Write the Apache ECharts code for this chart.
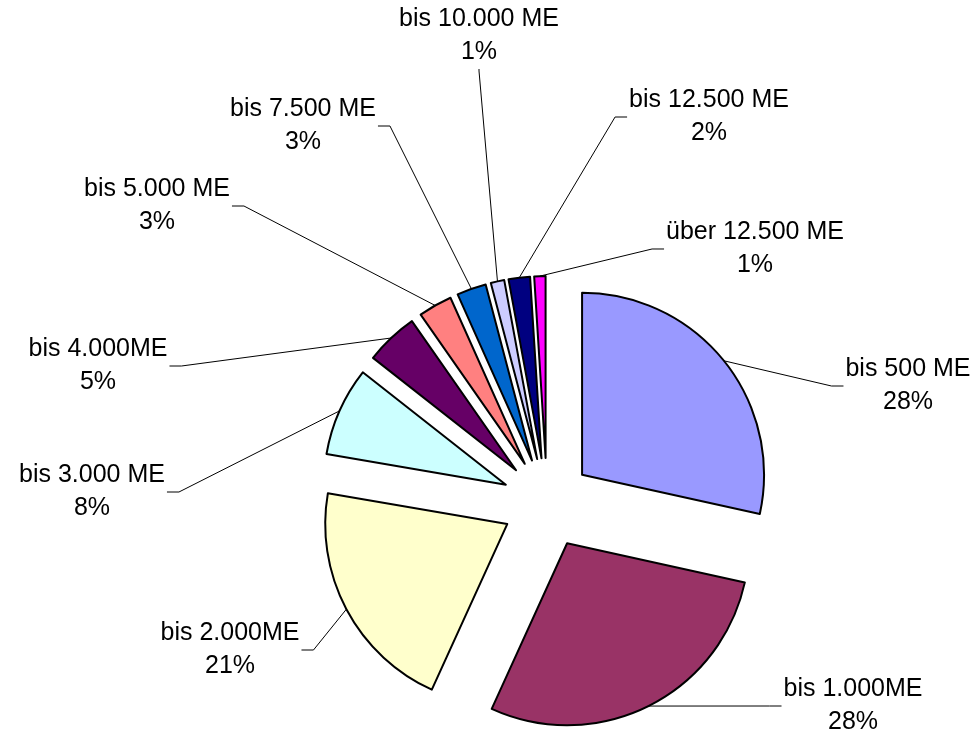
<!DOCTYPE html>
<html>
<head>
<meta charset="utf-8">
<script src="https://cdn.jsdelivr.net/npm/echarts@6/dist/echarts.min.js"></script>
<style>
  html, body { margin: 0; padding: 0; background: #fff; }
  #chart { width: 973px; height: 734px; }
</style>
</head>
<body>
<div id="chart"></div>
<script>
// slices, clockwise from 12 o'clock
const categories = ["bis 500 ME", "bis 1.000ME", "bis 2.000ME", "bis 3.000 ME", "bis 4.000ME",
  "bis 5.000 ME", "bis 7.500 ME", "bis 10.000 ME", "bis 12.500 ME", "über 12.500 ME"];
const shares = [28.45, 28.35, 20.9, 7.9, 4.7, 3.0, 2.6, 1.2, 1.9, 1.0];
const colors = ["#9999ff", "#993366", "#ffffcc", "#ccffff", "#660066",
  "#ff8080", "#0066cc", "#ccccff", "#000080", "#ff00ff"];
// where each label block sits (centre, px) and which side the leader line hits
const labelCenters = [[908, 386], [853, 706], [230, 650], [92, 492], [98, 366],
  [157, 206], [303, 126], [479, 36], [709, 117], [755, 249]];
const labelSides = ["left", "left", "right", "right", "right",
  "right", "right", "bottom", "left", "left"];

const pieCenter = [547, 503];
const explode = 45;

let myChart = echarts.init(document.getElementById("chart"));

let pieData = [];
for (let i = 0; i < categories.length; i++) {
  pieData.push({
    name: categories[i],
    value: shares[i],
    selected: true,
    itemStyle: { color: colors[i] },
    select: { itemStyle: { color: colors[i], borderColor: "#000", borderWidth: 2 } },
  });
}

let option = {
  animation: false,
  backgroundColor: "#fff",
  series: [
    {
      type: "pie",
      center: pieCenter,
      radius: 182,
      startAngle: 90,
      clockwise: true,
      selectedMode: "multiple",
      selectedOffset: explode,
      avoidLabelOverlap: false,
      itemStyle: { borderColor: "#000", borderWidth: 2 },
      emphasis: { disabled: true },
      label: {
        show: true,
        position: "outside",
        fontFamily: "Liberation Sans, Arial, sans-serif",
        fontSize: 25,
        lineHeight: 33,
        color: "#000",
        formatter: function (p) {
          return p.name + "\n" + Math.round(p.value) + "%";
        },
      },
      labelLine: {
        show: true,
        length: 10,
        length2: 10,
        lineStyle: { color: "#000", width: 1 },
      },
      labelLayout: function (params) {
        let i = params.dataIndex;
        let r = params.labelRect;
        let t = labelCenters[i];
        let pts = params.labelLinePoints;
        // the selected state moves label and leader line by the slice's explode shift
        let vx = pts[0][0] - pieCenter[0];
        let vy = pts[0][1] - pieCenter[1];
        let len = Math.sqrt(vx * vx + vy * vy);
        let sx = (vx / len) * explode;
        let sy = (vy / len) * explode;
        let hw = r.width / 2;
        let hh = r.height / 2;
        // text anchor x: right edge for right-aligned (left side) labels, else left edge
        let anchorX = pts[2][0] > r.x + hw ? r.x + r.width : r.x;
        let anchor, knee;
        if (labelSides[i] === "left") {
          anchor = [t[0] - hw - 2, t[1]];
          knee = [anchor[0] - 12, t[1]];
        } else if (labelSides[i] === "right") {
          anchor = [t[0] + hw + 2, t[1]];
          knee = [anchor[0] + 12, t[1]];
        } else {
          anchor = [t[0], t[1] + hh];
          knee = [t[0], t[1] + hh + 2];
        }
        return {
          align: "center",
          dx: t[0] - anchorX - sx,
          dy: t[1] - (r.y + hh) - sy,
          labelLinePoints: [
            pts[0],
            [knee[0] - sx, knee[1] - sy],
            [anchor[0] - sx, anchor[1] - sy],
          ],
        };
      },
      data: pieData,
    },
  ],
};
myChart.setOption(option);
</script>
</body>
</html>
